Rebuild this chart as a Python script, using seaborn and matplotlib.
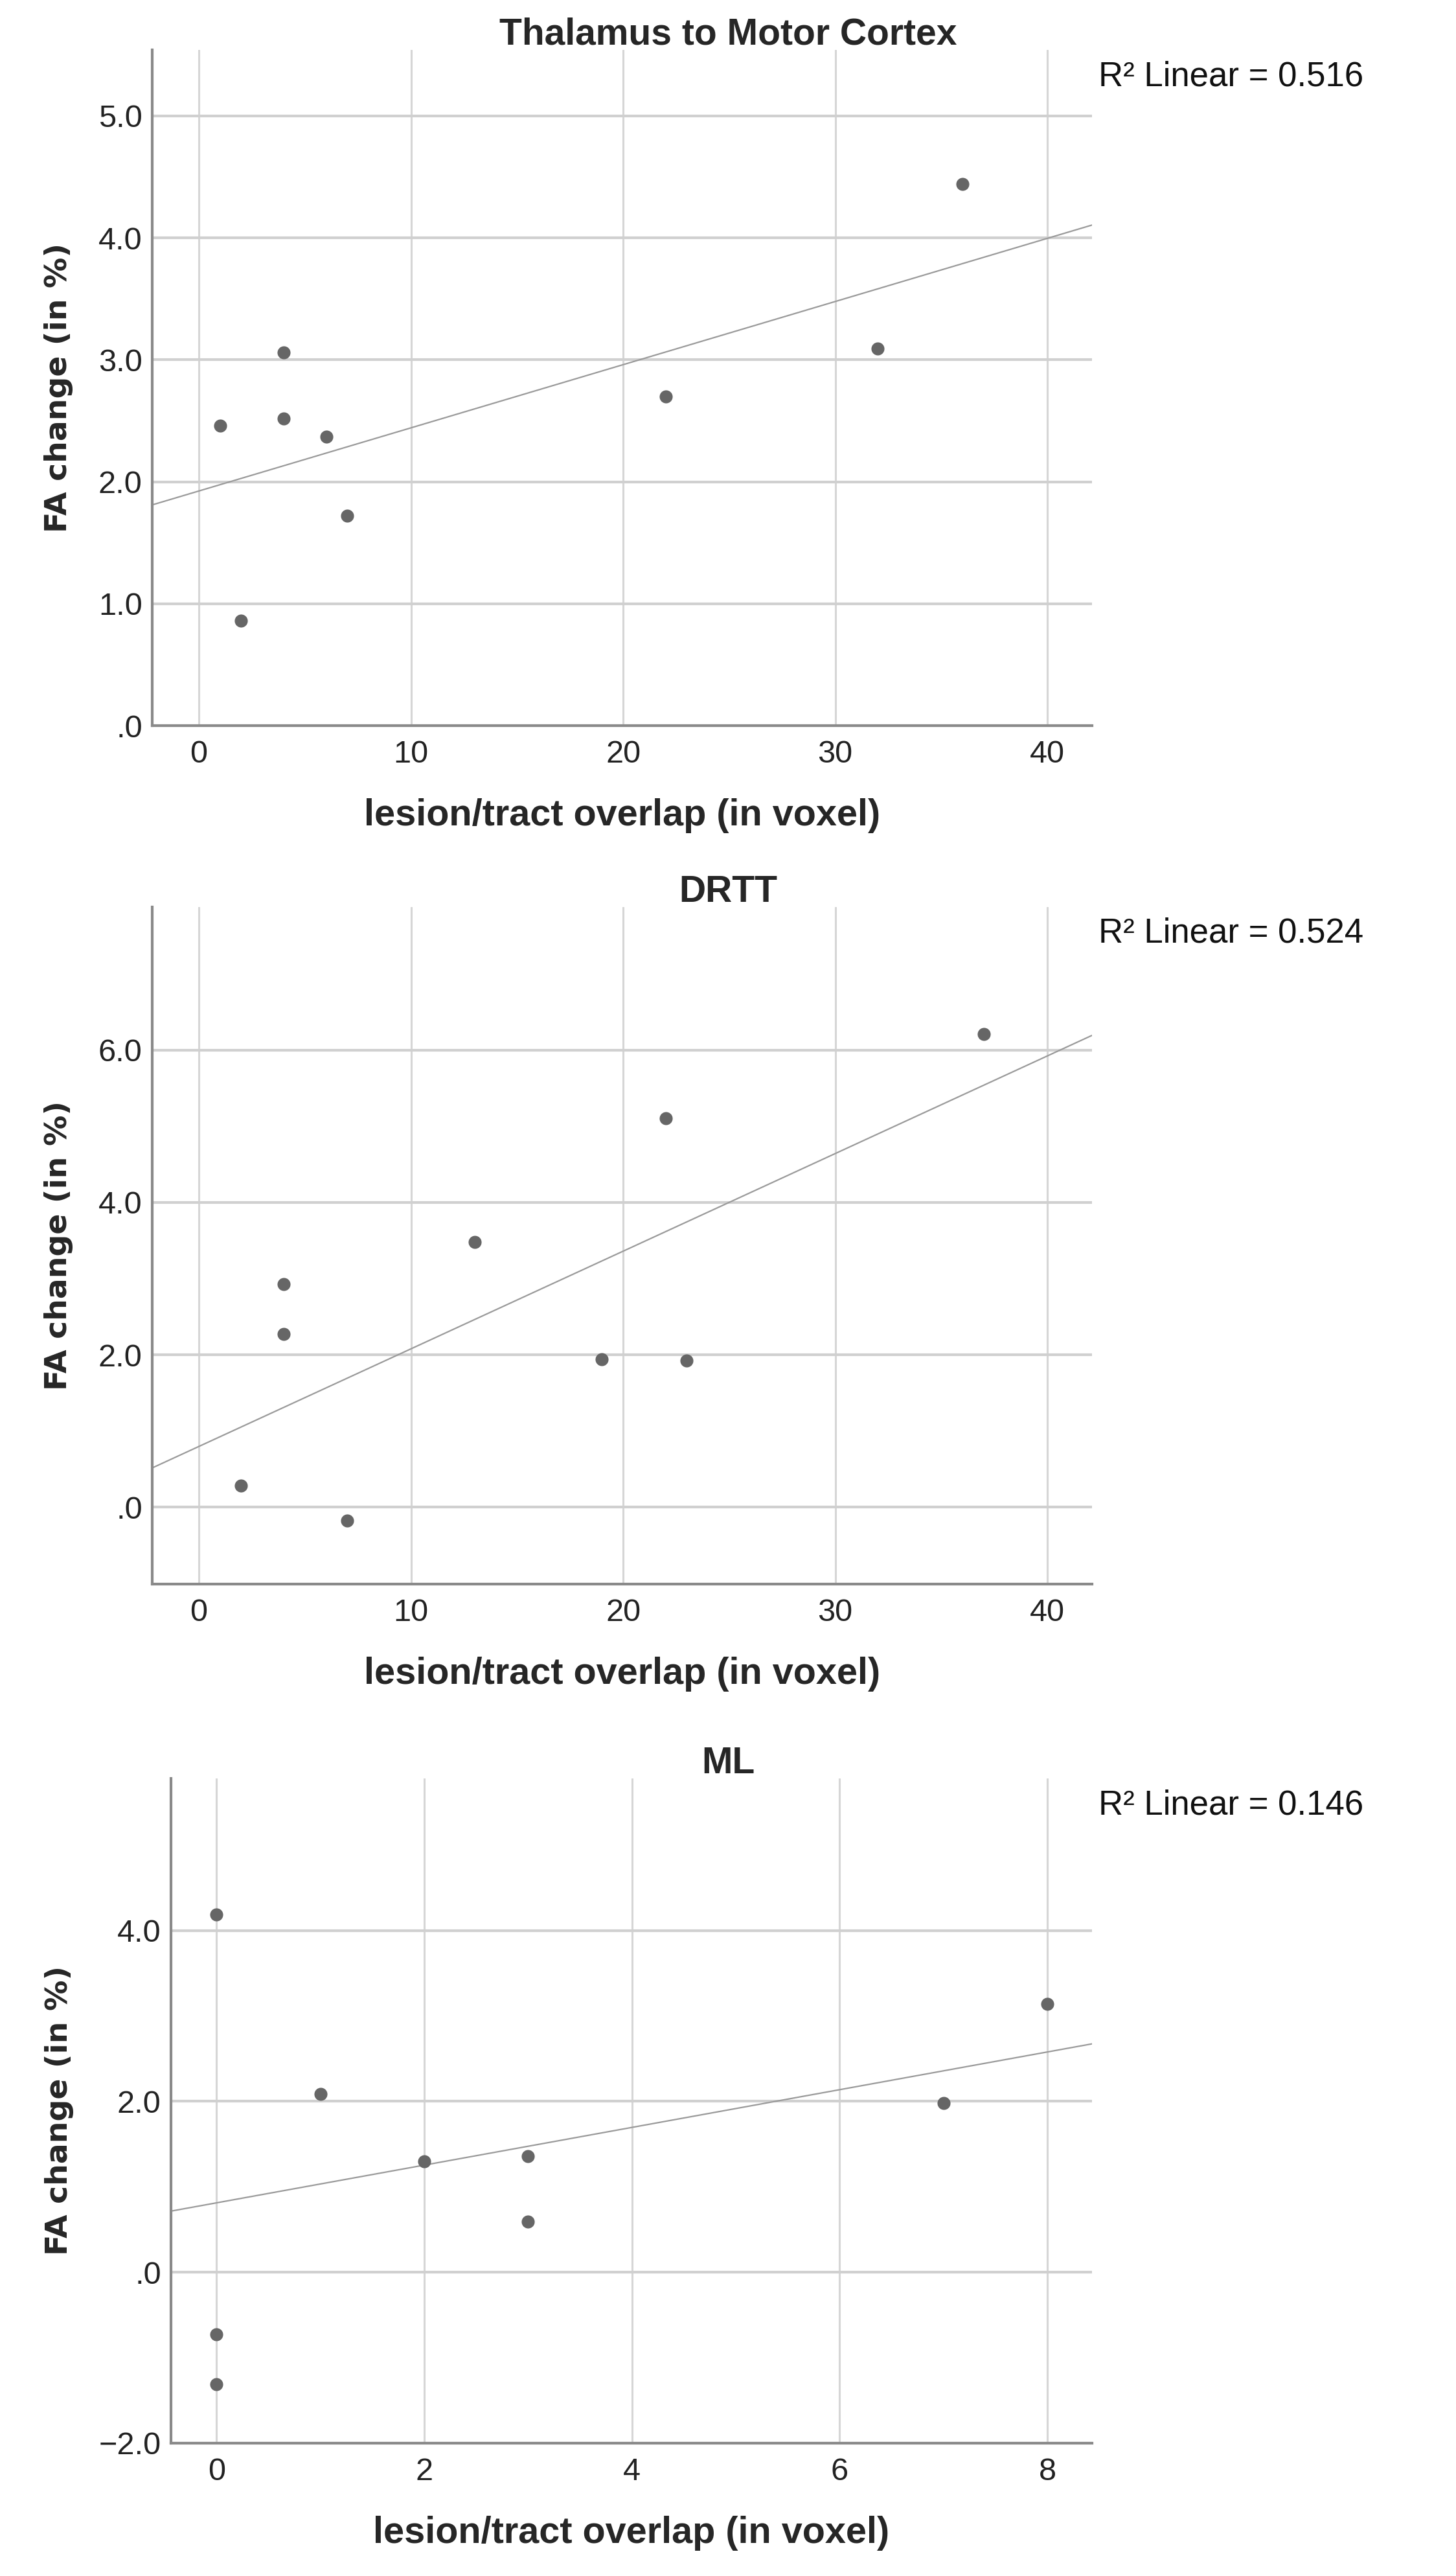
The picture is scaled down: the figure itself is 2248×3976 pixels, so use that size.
import matplotlib
matplotlib.use("Agg")
import matplotlib.pyplot as plt
import seaborn as sns

# three scatter panels with linear fit, SPSS look

titles = ["Thalamus to Motor Cortex", "DRTT", "ML"]
r2_values = ["0.516", "0.524", "0.146"]

x_tmc = [1, 2, 4, 4, 6, 7, 22, 32, 36]
y_tmc = [2.46, 0.86, 3.06, 2.52, 2.37, 1.72, 2.70, 3.09, 4.44]

x_drtt = [2, 4, 4, 7, 13, 19, 22, 23, 37]
y_drtt = [0.28, 2.93, 2.27, -0.18, 3.48, 1.94, 5.11, 1.92, 6.21]

x_ml = [0, 0, 0, 1, 2, 3, 3, 7, 8]
y_ml = [4.19, -0.73, -1.31, 2.09, 1.30, 1.36, 0.59, 1.98, 3.14]

x_ticks = [[0, 10, 20, 30, 40], [0, 10, 20, 30, 40], [0, 2, 4, 6, 8]]
y_ticks = [[0, 1, 2, 3, 4, 5], [0, 2, 4, 6], [-2, 0, 2, 4]]
y_ticklabels = [[".0", "1.0", "2.0", "3.0", "4.0", "5.0"],
                [".0", "2.0", "4.0", "6.0"],
                ["\u22122.0", ".0", "2.0", "4.0"]]
x_lims = [(-2.2, 42.1), (-2.2, 42.1), (-0.44, 8.43)]
y_lims = [(0, 5.54), (-1.01, 7.88), (-2.0, 5.78)]

xlabel = "lesion/tract overlap (in voxel)"
ylabel = "FA change (in %)"

sns.set_style("white")
plt.rcParams["font.family"] = ["Liberation Sans", "DejaVu Sans"]

fig = plt.figure(figsize=(22.48, 39.76), dpi=100)

# axes boxes in figure fraction
boxes = [[0.1045, 0.7183, 0.6455, 0.2623],
         [0.1045, 0.3851, 0.6455, 0.2628],
         [0.1174, 0.0516, 0.6326, 0.2580]]

xs = [x_tmc, x_drtt, x_ml]
ys = [y_tmc, y_drtt, y_ml]

for i in range(3):
    ax = fig.add_axes(boxes[i])
    ax.set_xlim(*x_lims[i])
    ax.set_ylim(*y_lims[i])

    sns.regplot(x=xs[i], y=ys[i], ax=ax, ci=None, truncate=False,
                scatter_kws=dict(s=210, color="#666666", alpha=1,
                                 linewidths=0, zorder=3),
                line_kws=dict(color="#9a9a9a", lw=1.6, zorder=2))

    ax.set_xlim(*x_lims[i])
    ax.set_ylim(*y_lims[i])
    ax.set_xticks(x_ticks[i])
    ax.set_yticks(y_ticks[i], y_ticklabels[i])

    ax.set_axisbelow(True)
    ax.xaxis.grid(True, color="#d6d6d6", lw=2.2)
    ax.yaxis.grid(True, color="#d0d0d0", lw=3)

    sns.despine(ax=ax)
    for side in ["left", "bottom"]:
        ax.spines[side].set_color("#8a8a8a")
        ax.spines[side].set_linewidth(3)

    ax.tick_params(axis="both", length=0, labelsize=35, colors="#222222")
    ax.tick_params(axis="x", pad=16)
    ax.tick_params(axis="y", pad=11)

    ax.set_xlabel(xlabel, fontsize=41.5, fontweight="bold", labelpad=32)
    ax.set_ylabel(ylabel, fontsize=34, fontweight="bold",
                  family="DejaVu Sans", labelpad=28)

    # title centred on the whole figure width
    pos = ax.get_position()
    ax.set_title(titles[i], x=(0.5 - pos.x0) / pos.width, pad=6,
                 fontsize=41, fontweight="bold")

    ax.annotate("R\u00b2 Linear = " + r2_values[i], xy=(1, 1),
                xycoords="axes fraction", xytext=(10, -41),
                textcoords="offset pixels", ha="left", va="center",
                fontsize=38, color="#111111", annotation_clip=False)

fig.savefig("out.png", dpi=100)
